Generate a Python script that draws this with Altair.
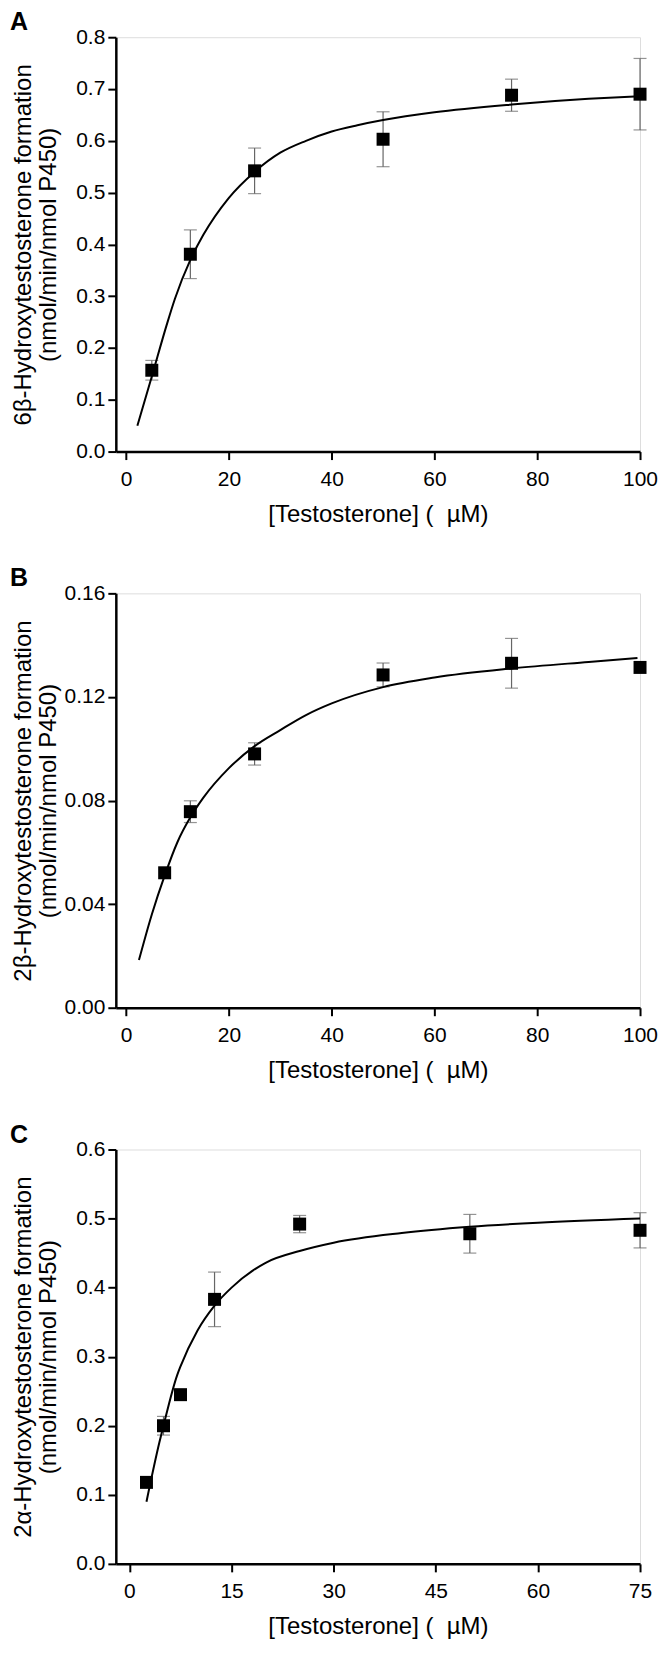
import altair as alt
import pandas as pd

FONT = "Liberation Sans"

# ---------------- Panel A : 6beta-hydroxylation ----------------
a_x = [5, 12.5, 25, 50, 75, 100]
a_y = [0.157, 0.381, 0.542, 0.603, 0.688, 0.690]
a_sd = [0.019, 0.047, 0.044, 0.053, 0.031, 0.069]
a_fit_x = [2.2, 5, 8, 9.5, 12.5, 15, 20, 25, 30, 35, 40, 45, 50, 60, 75, 90, 100]
a_fit_y = [0.050, 0.145, 0.248, 0.295, 0.370, 0.418, 0.490, 0.540, 0.577, 0.600, 0.618, 0.630, 0.640, 0.655, 0.670, 0.681, 0.686]

# ---------------- Panel B : 2beta-hydroxylation ----------------
b_x = [7.5, 12.5, 25, 50, 75, 100]
b_y = [0.0521, 0.0757, 0.098, 0.1285, 0.133, 0.1314]
b_sd = [0.0, 0.0042, 0.0043, 0.0046, 0.0096, 0.0]
b_fit_x = [2.5, 5, 7.5, 10, 12.5, 15, 20, 25, 30, 35, 40, 50, 60, 75, 90, 99.5]
b_fit_y = [0.0184, 0.036, 0.051, 0.064, 0.0735, 0.081, 0.0925, 0.1010, 0.1072, 0.1130, 0.1175, 0.1238, 0.1275, 0.1310, 0.1335, 0.1350]

# ---------------- Panel C : 2alpha-hydroxylation ----------------
c_x = [2.5, 5, 7.5, 12.5, 25, 50, 75]
c_y = [0.118, 0.200, 0.245, 0.383, 0.492, 0.478, 0.483]
c_sd = [0.0, 0.0135, 0.0, 0.0395, 0.0125, 0.028, 0.0255]
c_fit_x = [2.5, 4.4, 5, 7, 7.5, 10, 12.5, 15, 20, 25, 30, 40, 50, 60, 75]
c_fit_y = [0.090, 0.176, 0.200, 0.273, 0.286, 0.338, 0.374, 0.400, 0.436, 0.453, 0.465, 0.479, 0.488, 0.494, 0.500]

X_TITLE = "[Testosterone] (\u00a0\u00a0\u00b5M)"
AB_XTICKS = [0, 20, 40, 60, 80, 100]
C_XTICKS = [0, 15, 30, 45, 60, 75]

W = 525
H = 415


def panel(letter, xs, ys, sds, fx, fy, xdom, xticks, ydom, yticks, yfmt, ytitle):
    pts = pd.DataFrame({"x": xs, "y": ys, "sd": sds})
    pts["lo"] = pts["y"] - pts["sd"]
    pts["hi"] = pts["y"] + pts["sd"]
    err = pts[pts["sd"] > 0]
    fit = pd.DataFrame({"x": fx, "y": fy})
    lab = pd.DataFrame({"lab": [letter]})

    xaxis = alt.Axis(
        values=xticks, format="d", title=X_TITLE,
        titleFont=FONT, titleFontSize=24, titleFontWeight="normal", titleColor="black",
        titleX=W / 2, titleY=70, titleAlign="center", titleBaseline="alphabetic",
        labelFont=FONT, labelFontSize=21, labelColor="black", labelPadding=9,
        labelFlush=False, labelOverlap=False,
        tickSize=8, tickWidth=2, tickColor="black",
        domainColor="black", domainWidth=2.5, grid=False,
    )
    yaxis = alt.Axis(
        values=yticks, format=yfmt, title=ytitle,
        titleFont=FONT, titleFontSize=24, titleFontWeight="normal", titleColor="black",
        titleX=-85, titleY=H / 2, titleAngle=270, titleAlign="center",
        titleBaseline="alphabetic", titleLineHeight=25,
        labelFont=FONT, labelFontSize=21, labelColor="black", labelPadding=3,
        labelFlush=False, labelOverlap=False,
        tickSize=8, tickWidth=2, tickColor="black",
        domainColor="black", domainWidth=2.5, grid=False,
    )
    xsc = alt.Scale(domain=xdom, nice=False, zero=False)
    ysc = alt.Scale(domain=ydom, nice=False, zero=False)

    X = alt.X("x:Q", scale=xsc, axis=xaxis)

    rules = alt.Chart(err).mark_rule(color="#666666", strokeWidth=1.2).encode(
        x=X, y=alt.Y("lo:Q", scale=ysc, axis=yaxis), y2="hi:Q"
    )
    cap_lo = alt.Chart(err).mark_tick(orient="horizontal", size=13, thickness=1.2, color="#666666").encode(
        x=X, y=alt.Y("lo:Q", scale=ysc, axis=yaxis)
    )
    cap_hi = alt.Chart(err).mark_tick(orient="horizontal", size=13, thickness=1.2, color="#666666").encode(
        x=X, y=alt.Y("hi:Q", scale=ysc, axis=yaxis)
    )
    line = alt.Chart(fit).mark_line(color="black", strokeWidth=2, interpolate="monotone").encode(
        x=X, y=alt.Y("y:Q", scale=ysc, axis=yaxis)
    )
    sq = alt.Chart(pts).mark_square(size=169, color="black", opacity=1, filled=True).encode(
        x=X, y=alt.Y("y:Q", scale=ysc, axis=yaxis)
    )
    letter_mark = alt.Chart(lab).mark_text(
        align="left", baseline="top", font=FONT, fontSize=25, fontWeight="bold", color="black"
    ).encode(text="lab:N", x=alt.value(-106), y=alt.value(-27))
    return alt.layer(rules, cap_lo, cap_hi, line, sq, letter_mark).properties(width=W, height=H)


pa = panel("A", a_x, a_y, a_sd, a_fit_x, a_fit_y, [-2, 100], AB_XTICKS,
           [0, 0.8], [0, 0.1, 0.2, 0.3, 0.4, 0.5, 0.6, 0.7, 0.8], ".1f",
           ["6\u03b2-Hydroxytestosterone formation", "(nmol/min/nmol P450)"])
pb = panel("B", b_x, b_y, b_sd, b_fit_x, b_fit_y, [-2, 100], AB_XTICKS,
           [0, 0.16], [0, 0.04, 0.08, 0.12, 0.16], ".2f",
           ["2\u03b2-Hydroxytestosterone formation", "(nmol/min/nmol P450)"])
pc = panel("C", c_x, c_y, c_sd, c_fit_x, c_fit_y, [-2, 75], C_XTICKS,
           [0, 0.6], [0, 0.1, 0.2, 0.3, 0.4, 0.5, 0.6], ".1f",
           ["2\u03b1-Hydroxytestosterone formation", "(nmol/min/nmol P450)"])

chart = alt.vconcat(pa, pb, pc, spacing=142, bounds="flush").properties(
    padding={"left": 1, "top": 0, "right": 0, "bottom": 0}
).configure_view(stroke=None).configure(background="white")

chart.save("out.html", embed_options={"renderer": "svg", "actions": False})
